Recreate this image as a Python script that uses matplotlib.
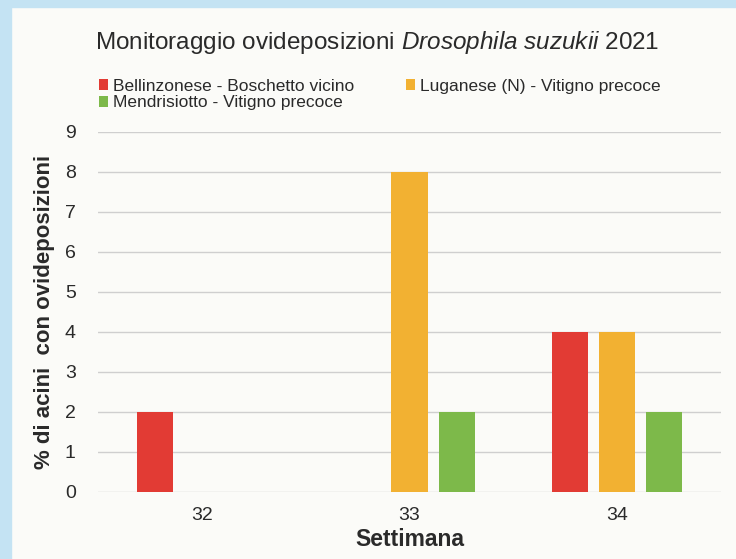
import matplotlib
matplotlib.use("Agg")
import matplotlib.pyplot as plt
import numpy as np
from matplotlib.patches import Rectangle

weeks = ["32", "33", "34"]
series_names = ["Bellinzonese - Boschetto vicino", "Luganese (N) - Vitigno precoce", "Mendrisiotto - Vitigno precoce"]
bellinzonese = [2, 0, 4]
luganese = [0, 8, 4]
mendrisiotto = [0, 2, 2]
colors = ["#e23b34", "#f2b132", "#7db94a"]

plt.rcParams['font.family'] = ['Liberation Sans', 'DejaVu Sans']
plt.rcParams['mathtext.fontset'] = 'custom'
plt.rcParams['mathtext.rm'] = 'Liberation Sans'
plt.rcParams['mathtext.it'] = 'Liberation Sans:italic'

fig = plt.figure(figsize=(7.36, 5.59), dpi=100)
fig.patch.set_facecolor("#fbfbf8")
fig.add_artist(Rectangle((0, 0), 11/736, 1, transform=fig.transFigure, color="#c4e3f3", zorder=0))
fig.add_artist(Rectangle((0, 1 - 7/559), 1, 7/559, transform=fig.transFigure, color="#c4e3f3", zorder=0))

ax = fig.add_axes([98/736, (559-492)/559, (721-98)/736, (492-132)/559])
ax.set_facecolor("none")

x = np.arange(len(weeks))
off = 0.227
w = 0.174
data = [bellinzonese, luganese, mendrisiotto]
handles = []
for i, (vals, c, name) in enumerate(zip(data, colors, series_names)):
    b = ax.bar(x + (i - 1) * off, vals, width=w, color=c, label=name, zorder=3)
    handles.append(b)

ax.set_xlim(-0.5, 2.5)
ax.set_ylim(0, 9)
ax.set_yticks(range(0, 10))
ax.set_xticks(x)
ax.set_xticklabels(weeks)
ax.yaxis.grid(True, color="#cfcfcf", linewidth=1.0, zorder=0)
ax.set_axisbelow(True)
for s in ax.spines.values():
    s.set_visible(False)
ax.tick_params(axis='both', length=0, labelsize=14, colors="#2a2a2a")
ax.tick_params(axis='y', pad=16)
ax.tick_params(axis='x', pad=11)

ax.set_ylabel("% di acini  con ovideposizioni", fontsize=16, fontweight='bold', color="#2a2a2a", labelpad=7)
ax.set_xlabel("Settimana", fontsize=16.5, fontweight='bold', color="#2a2a2a", labelpad=3)

fig.text(377/736, 1 - 43/559, r"Monitoraggio ovideposizioni $\it{Drosophila\ suzukii}$ 2021",
         ha='center', va='center', fontsize=17.5, color="#2a2a2a")

leg = fig.legend([handles[0], handles[2], handles[1]],
                 [series_names[0], series_names[2], series_names[1]],
                 ncol=2, loc='upper left', bbox_to_anchor=(90/736, 1 - 70/559),
                 frameon=False, fontsize=12.5, handlelength=0.55, handleheight=0.55,
                 handletextpad=0.25, columnspacing=3.0, labelspacing=0.1, borderpad=0,
                 labelcolor="#2a2a2a")

fig.savefig("out.png", dpi=100, facecolor=fig.get_facecolor())
